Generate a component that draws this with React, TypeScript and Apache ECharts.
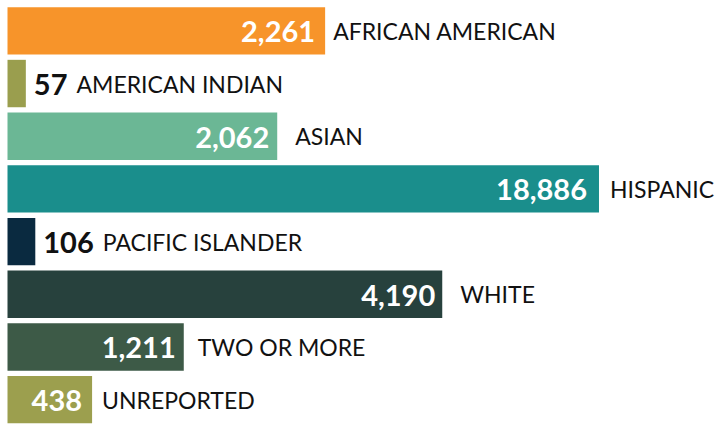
import React, { useEffect, useRef } from "react";
import * as echarts from "echarts";

// Categories (top to bottom)
const categories = [
  "AFRICAN AMERICAN",
  "AMERICAN INDIAN",
  "ASIAN",
  "HISPANIC",
  "PACIFIC ISLANDER",
  "WHITE",
  "TWO OR MORE",
  "UNREPORTED",
];

// Counts shown as labels
const counts = [2261, 57, 2062, 18886, 106, 4190, 1211, 438];

// Drawn bar lengths (relative scale, longest bar = 100)
const barLengths = [53.7, 3.1, 45.6, 100, 4.7, 73.5, 29.8, 14.3];

// Style arrays
const colors = ["#F7942A", "#9A9E4E", "#6BB795", "#1A8E8C", "#0A2A40", "#27413D", "#3D5A47", "#9C9F4E"];
const valueInside = [true, false, true, true, false, true, true, true];
const nameGap = [8, 8, 18, 11, 8, 18, 14, 10];
const valuePad = [10, 0, 8, 12, 0, 7, 8, 10];

const fmt = (n: number) => n.toLocaleString("en-US");

export default function App() {
  const ref = useRef<HTMLDivElement>(null);
  useEffect(() => {
    if (!ref.current) return;
    const chart = echarts.init(ref.current, null, { renderer: "svg" });
    const nameFont = { fontFamily: "Lato", fontSize: 23, color: "#111111", fontWeight: "normal" as const };
    const valFont = { fontFamily: "Lato", fontSize: 29, fontWeight: "bold" as const };
    chart.setOption({
      animation: false,
      grid: { left: 7.5, top: 4.5, width: 710.5, height: 425 },
      xAxis: { type: "value", min: 0, max: 120.12, show: false },
      yAxis: { type: "category", data: categories, inverse: true, show: false },
      series: [
        {
          type: "bar",
          barCategoryGap: "10%",
          data: barLengths.map((v, i) => ({
            value: v,
            itemStyle: { color: colors[i] },
            label: {
              show: valueInside[i],
              position: "insideRight",
              distance: valuePad[i],
              formatter: () => fmt(counts[i]),
              color: "#ffffff",
              ...valFont,
            },
          })),
        },
        {
          type: "bar",
          barGap: "-100%",
          barCategoryGap: "10%",
          silent: true,
          data: barLengths.map((v, i) => ({
            value: v,
            itemStyle: { color: "rgba(0,0,0,0)" },
            label: {
              show: true,
              position: "right",
              distance: nameGap[i],
              formatter: () =>
                valueInside[i]
                  ? `{n|${categories[i]}}`
                  : `{v|${fmt(counts[i])}}{n|${categories[i]}}`,
              rich: {
                n: { ...nameFont },
                v: { ...valFont, color: "#111111", padding: [0, 9, 0, 0] },
              },
            },
          })),
        },
      ],
    });
    return () => chart.dispose();
  }, []);
  return (
    <div
      ref={ref}
      style={{ position: "absolute", left: 0, top: 0, width: 718, height: 426, background: "#ffffff" }}
    />
  );
}
